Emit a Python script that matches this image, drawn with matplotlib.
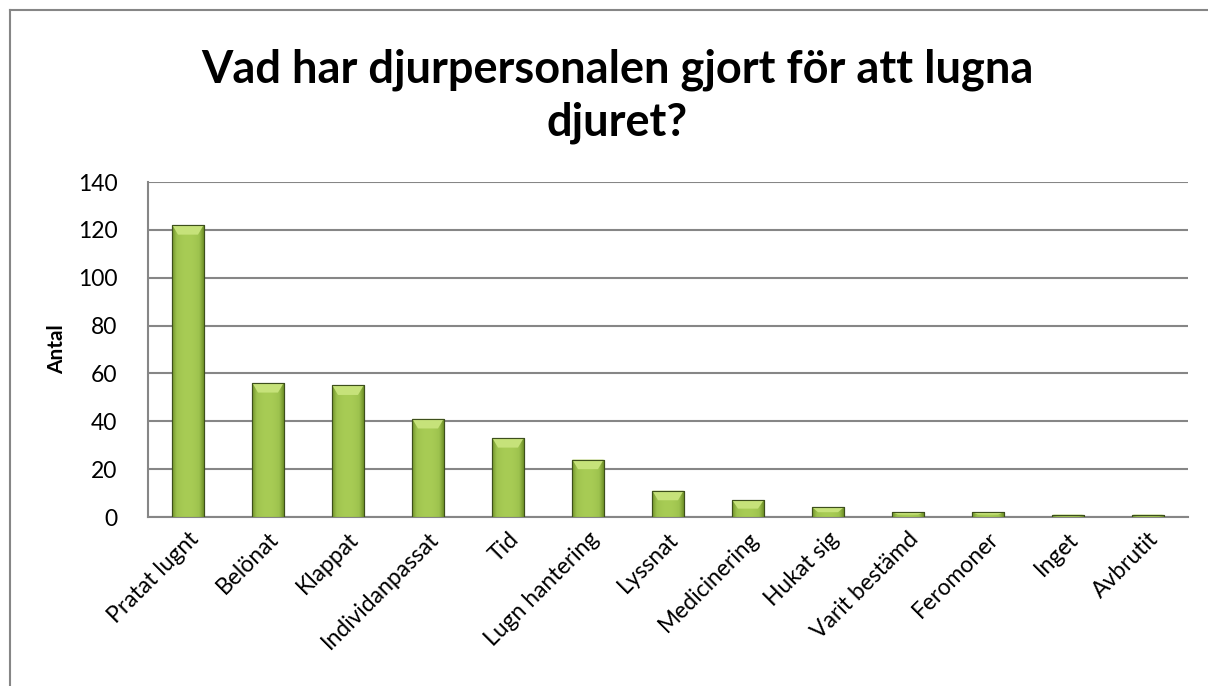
import numpy as np
import matplotlib.pyplot as plt
from matplotlib.patches import Polygon, Rectangle
from matplotlib.lines import Line2D
from matplotlib.colors import LinearSegmentedColormap

categories = ['Pratat lugnt', 'Belönat', 'Klappat', 'Individanpassat', 'Tid',
              'Lugn hantering', 'Lyssnat', 'Medicinering', 'Hukat sig',
              'Varit bestämd', 'Feromoner', 'Inget', 'Avbrutit']
values = [122, 56, 55, 41, 33, 24, 11, 7, 4, 2, 2, 1, 1]
yticks = [0, 20, 40, 60, 80, 100, 120, 140]

plt.rcParams['font.family'] = ['Lato', 'DejaVu Sans']

fig = plt.figure(figsize=(12.08, 6.86), dpi=100)
ax = fig.add_axes([148 / 1208, 1 - 517 / 686, 1040 / 1208, 335 / 686])

# outer chart border: only top and left edges are visible in the crop
bx, by = 9.5 / 1208, 1 - 9.5 / 686
fig.add_artist(Line2D([bx, 1.0], [by, by], color='#868686', linewidth=1.5))
fig.add_artist(Line2D([bx, bx], [0.0, by], color='#868686', linewidth=1.5))

x = np.arange(len(categories))
w = 0.39
bars = ax.bar(x, values, width=w, color='#8db33d', edgecolor='#3d4f1c',
              linewidth=0.8, zorder=3)

# horizontal gradient on each bar (dark edges, light middle)
grad = np.linspace(-1, 1, 64)
grad = 1 - np.abs(grad) ** 2
grad = np.vstack([grad, grad])
cmap = LinearSegmentedColormap.from_list('g', ['#6f9128', '#9dc24e', '#a8cc55'])
for b, v in zip(bars, values):
    im = ax.imshow(grad, cmap=cmap, aspect='auto', zorder=3.5,
                   extent=(b.get_x(), b.get_x() + b.get_width(), 0, v))
    im.set_clip_path(b)
    # bevel on top
    dy = min(4.0, v * 0.5)
    dx = w * 0.18
    top = Polygon([(b.get_x(), v), (b.get_x() + w, v),
                   (b.get_x() + w - dx, v - dy), (b.get_x() + dx, v - dy)],
                  closed=True, facecolor='#c6e27a', edgecolor='none', zorder=4)
    ax.add_patch(top)
    ax.add_patch(Rectangle((b.get_x(), 0), w, v, fill=False,
                           edgecolor='#3d4f1c', linewidth=0.8, zorder=5))

ax.set_xlim(-0.5, len(categories) - 0.5)
ax.set_ylim(0, 140)
ax.set_yticks(yticks)
ax.yaxis.grid(True, color='#868686', linewidth=1.5, zorder=0)
ax.set_axisbelow(True)
ax.set_xticks(x)
ax.set_xticklabels(categories, rotation=45, ha='right', rotation_mode='anchor',
                   fontsize=16.5)
ax.tick_params(axis='y', labelsize=16.5, length=0, pad=22)
ax.tick_params(axis='x', length=0, pad=8)
for s in ['top', 'right']:
    ax.spines[s].set_visible(False)
ax.spines['left'].set_color('#868686')
ax.spines['left'].set_linewidth(1.5)
ax.spines['bottom'].set_color('#868686')
ax.spines['bottom'].set_linewidth(1.5)

ax.set_ylabel('Antal', fontsize=15, fontweight='bold', labelpad=8)

fig.text(617 / 1208, 1 - 96 / 686, 'Vad har djurpersonalen gjort för att lugna\ndjuret?',
         ha='center', va='center', fontsize=32.5, fontweight='bold', linespacing=1.32)

fig.savefig('out.png', dpi=100)
